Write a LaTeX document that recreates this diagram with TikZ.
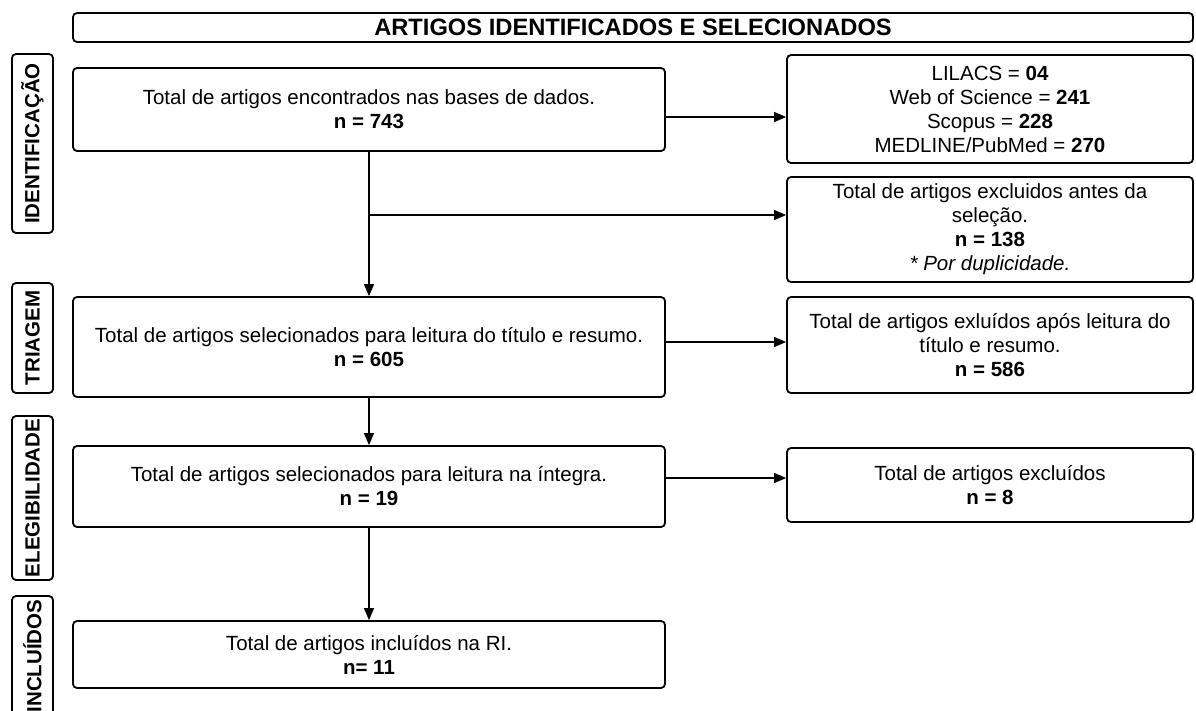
\documentclass[tikz,border=0pt]{standalone}
\usepackage{fontspec}
\setmainfont{Liberation Sans}
\usetikzlibrary{arrows.meta}

\begin{document}
\begin{tikzpicture}[x=1pt, y=-1pt,
    box/.style={draw, line width=1.8pt, rounded corners=4pt, align=center, inner sep=2pt,
        font=\fontsize{20.5pt}{24pt}\selectfont},
    phase/.style={draw, line width=1.8pt, rounded corners=4pt, rotate=90, inner sep=0pt,
        minimum height=41pt, font=\bfseries\fontsize{20.5pt}{24pt}\selectfont},
    flow/.style={line width=1.3pt, -{Triangle[length=12pt, width=10pt]}}]

    \useasboundingbox (0,0) rectangle (1196,710);

    \node[box, minimum width=1120pt, minimum height=29pt,
        font=\bfseries\fontsize{23.7pt}{28pt}\selectfont] (titulo) at (633,27.5)
        {ARTIGOS IDENTIFICADOS E SELECIONADOS};

    \node[phase, minimum width=179pt] (identificacao) at (32.5,143.5) {IDENTIFICAÇÃO};
    \node[phase, minimum width=110pt] (triagem) at (32.5,338) {TRIAGEM};
    \node[phase, minimum width=164pt] (elegibilidade) at (32.5,498) {ELEGIBILIDADE};
    \node[phase, minimum width=120pt] (incluidos) at (32.5,656) {INCLUÍDOS};

    \node[box, minimum width=592pt, minimum height=83pt] (encontrados) at (369,109.5)
        {Total de artigos encontrados nas bases de dados.\\\textbf{n = 743}};
    \node[box, minimum width=592pt, minimum height=100pt] (selecionados) at (369,347)
        {Total de artigos selecionados para leitura do título e resumo.\\\textbf{n = 605}};
    \node[box, minimum width=592pt, minimum height=81pt] (integra) at (369,486.5)
        {Total de artigos selecionados para leitura na íntegra.\\\textbf{n = 19}};
    \node[box, minimum width=592pt, minimum height=67pt] (incluidosri) at (369,654.5)
        {Total de artigos incluídos na RI.\\\textbf{n= 11}};

    \node[box, minimum width=406pt, minimum height=108pt] (bases) at (990,109)
        {LILACS = \textbf{04}\\Web of Science = \textbf{241}\\Scopus = \textbf{228}\\MEDLINE/PubMed = \textbf{270}};
    \node[box, minimum width=406pt, minimum height=105pt] (duplicados) at (990,229.5)
        {Total de artigos excluidos antes da\\seleção.\\\textbf{n = 138}\\\textit{* Por duplicidade.}};
    \node[box, minimum width=406pt, minimum height=96pt] (tituloresumo) at (990,345)
        {Total de artigos exluídos após leitura do\\título e resumo.\\\textbf{n = 586}};
    \node[box, minimum width=406pt, minimum height=74pt] (excluidos) at (990,485)
        {Total de artigos excluídos\\\textbf{n = 8}};

    \coordinate (ramo) at (369,215);

    \draw[flow] (encontrados.east |- 0,117) -- (bases.west |- 0,117);
    \draw[flow] (encontrados.south) -- (selecionados.north);
    \draw[flow] (ramo) -- (duplicados.west |- ramo);
    \draw[flow] (selecionados.east |- 0,342) -- (tituloresumo.west |- 0,342);
    \draw[flow] (selecionados.south) -- (integra.north);
    \draw[flow] (integra.east |- 0,478) -- (excluidos.west |- 0,478);
    \draw[flow] (integra.south) -- (incluidosri.north);

\end{tikzpicture}
\end{document}
